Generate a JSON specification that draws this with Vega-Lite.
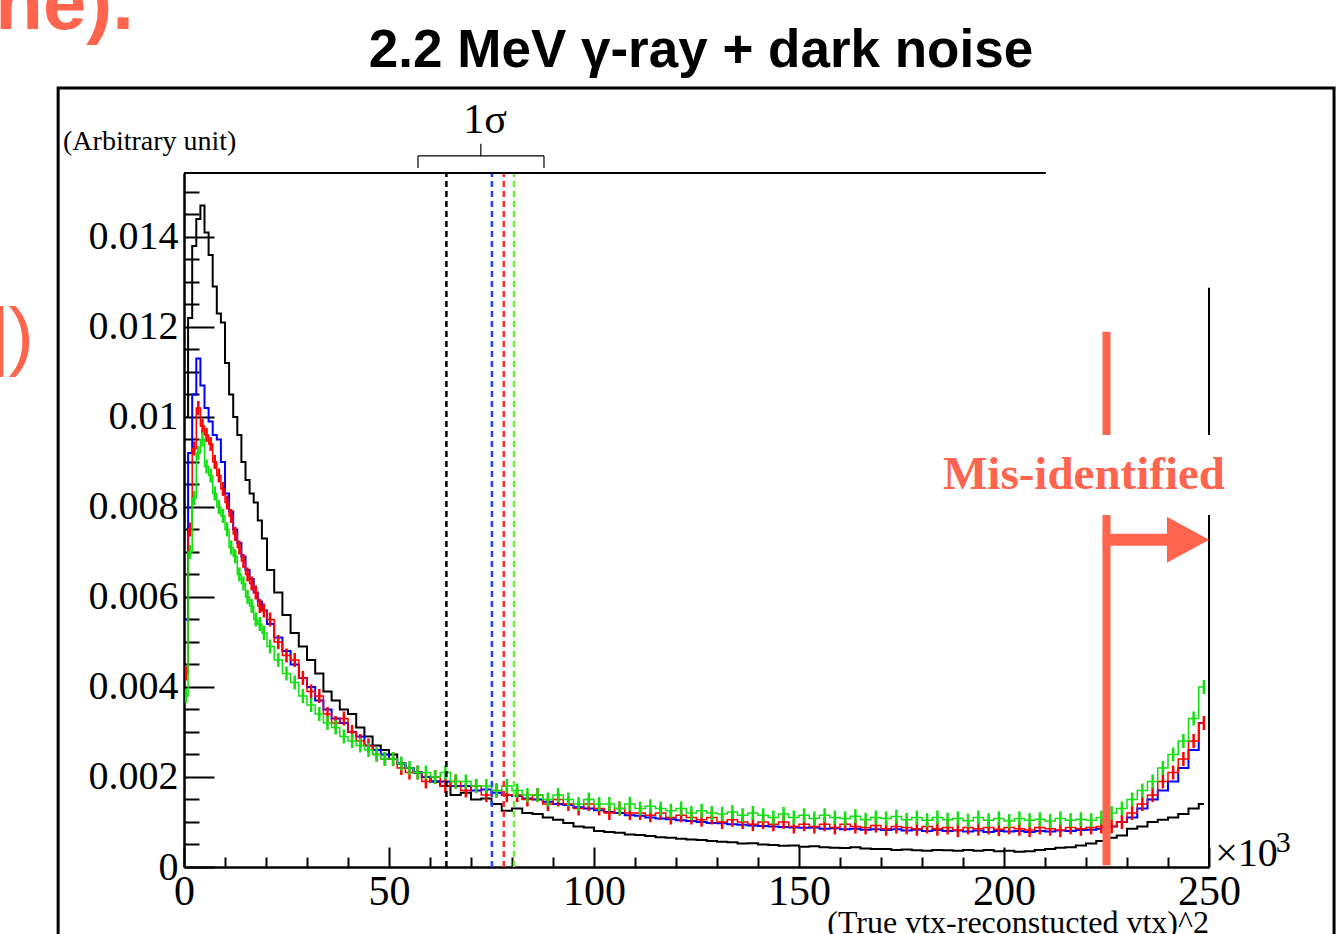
{
"$schema": "https://vega.github.io/schema/vega-lite/v6.json",
"width": 1025, "height": 694,
"autosize": "none",
"padding": {"left": 184, "top": 173, "right": 128, "bottom": 67},
"background": "white",
"config": {"view": {"stroke": null}, "axis": {"grid": false, "domainColor": "black", "tickColor": "black", "labelColor": "black", "labelFont": "Liberation Serif", "title": null}},
"resolve": {"axis": {"x": "independent", "y": "independent"}},
"datasets": {
"hist": [
{"x":0.5,"black":0.0100,"blue":0.0055,"red":0.0043,"green":0.0038},
{"x":1.5,"black":0.0122,"blue":0.0092,"red":0.0075,"green":0.0070},
{"x":2.5,"black":0.0138,"blue":0.0105,"red":0.0093,"green":0.0082},
{"x":3.5,"black":0.0144,"blue":0.0113,"red":0.0102,"green":0.0092},
{"x":4.5,"black":0.0147,"blue":0.0107,"red":0.0098,"green":0.0095},
{"x":5.5,"black":0.0141,"blue":0.0102,"red":0.0096,"green":0.0089},
{"x":6.5,"black":0.0136,"blue":0.0099,"red":0.0094,"green":0.0087},
{"x":7.5,"black":0.0129,"blue":0.0096,"red":0.0090,"green":0.0083},
{"x":8.5,"black":0.0123,"blue":0.0095,"red":0.0087,"green":0.0080},
{"x":9.5,"black":0.0121,"blue":0.0090,"red":0.0084,"green":0.0078},
{"x":10.5,"black":0.0112,"blue":0.0083,"red":0.0081,"green":0.0075},
{"x":11.5,"black":0.0105,"blue":0.0079,"red":0.0078,"green":0.0071},
{"x":12.5,"black":0.0100,"blue":0.0075,"red":0.0074,"green":0.0069},
{"x":13.5,"black":0.0096,"blue":0.0072,"red":0.0071,"green":0.0065},
{"x":14.5,"black":0.0090,"blue":0.0069,"red":0.0068,"green":0.0063},
{"x":15.5,"black":0.0086,"blue":0.0066,"red":0.0065,"green":0.0060},
{"x":16.5,"black":0.0083,"blue":0.0064,"red":0.0063,"green":0.0058},
{"x":17.5,"black":0.0081,"blue":0.0061,"red":0.0061,"green":0.0055},
{"x":18.5,"black":0.0077,"blue":0.0059,"red":0.0058,"green":0.0054},
{"x":19.5,"black":0.0073,"blue":0.0057,"red":0.0057,"green":0.0052},
{"x":21,"black":0.0066,"blue":0.0054,"red":0.0055,"green":0.0049},
{"x":23,"black":0.0061,"blue":0.0051,"red":0.0050,"green":0.0046},
{"x":25,"black":0.0056,"blue":0.0048,"red":0.0047,"green":0.0043},
{"x":27,"black":0.0052,"blue":0.0045,"red":0.0046,"green":0.0041},
{"x":29,"black":0.0049,"blue":0.0042,"red":0.0042,"green":0.0038},
{"x":31,"black":0.0046,"blue":0.0040,"red":0.0039,"green":0.0036},
{"x":33,"black":0.0043,"blue":0.0037,"red":0.0038,"green":0.0034},
{"x":35,"black":0.0039,"blue":0.0035,"red":0.0034,"green":0.0032},
{"x":37,"black":0.0037,"blue":0.0033,"red":0.0032,"green":0.0031},
{"x":39,"black":0.0035,"blue":0.0032,"red":0.0033,"green":0.0029},
{"x":41,"black":0.0034,"blue":0.0030,"red":0.0030,"green":0.0028},
{"x":43,"black":0.0031,"blue":0.0029,"red":0.0028,"green":0.0027},
{"x":45,"black":0.0029,"blue":0.0027,"red":0.0027,"green":0.0026},
{"x":47,"black":0.0027,"blue":0.0026,"red":0.0025,"green":0.0025},
{"x":49,"black":0.0026,"blue":0.0025,"red":0.0024,"green":0.0024},
{"x":51,"black":0.0025,"blue":0.0024,"red":0.0024,"green":0.0024},
{"x":53,"black":0.0023,"blue":0.0023,"red":0.0022,"green":0.0023},
{"x":55,"black":0.0022,"blue":0.0022,"red":0.0021,"green":0.0022},
{"x":57,"black":0.0021,"blue":0.0021,"red":0.0021,"green":0.0021},
{"x":59,"black":0.0020,"blue":0.0020,"red":0.0019,"green":0.0021},
{"x":61.25,"black":0.0019,"blue":0.0019,"red":0.0020,"green":0.0020},
{"x":63.75,"black":0.0018,"blue":0.0019,"red":0.0018,"green":0.0021},
{"x":66.25,"black":0.0016,"blue":0.0018,"red":0.0019,"green":0.0019},
{"x":68.75,"black":0.00165,"blue":0.0018,"red":0.0017,"green":0.0019},
{"x":71.25,"black":0.0015,"blue":0.0017,"red":0.0018,"green":0.0018},
{"x":73.75,"black":0.00152,"blue":0.00172,"red":0.0016,"green":0.0018},
{"x":76.25,"black":0.0014,"blue":0.00165,"red":0.0017,"green":0.0017},
{"x":78.75,"black":0.00125,"blue":0.0016,"red":0.0016,"green":0.0018},
{"x":81.25,"black":0.0013,"blue":0.00158,"red":0.0016,"green":0.0017},
{"x":83.75,"black":0.0012,"blue":0.00152,"red":0.0015,"green":0.0016},
{"x":86.25,"black":0.00118,"blue":0.0015,"red":0.0016,"green":0.0016},
{"x":88.75,"black":0.0011,"blue":0.00145,"red":0.0014,"green":0.0015},
{"x":91.25,"black":0.00105,"blue":0.0014,"red":0.0015,"green":0.0016},
{"x":93.75,"black":0.00098,"blue":0.00138,"red":0.0014,"green":0.0015},
{"x":96.25,"black":0.0009,"blue":0.00133,"red":0.0013,"green":0.0014},
{"x":98.75,"black":0.00088,"blue":0.0013,"red":0.0014,"green":0.0015},
{"x":101.25,"black":0.0008,"blue":0.00126,"red":0.0013,"green":0.0014},
{"x":103.75,"black":0.00078,"blue":0.00122,"red":0.0012,"green":0.0014},
{"x":106.25,"black":0.00076,"blue":0.0012,"red":0.0013,"green":0.0013},
{"x":108.75,"black":0.00072,"blue":0.00115,"red":0.0012,"green":0.0014},
{"x":111.25,"black":0.00071,"blue":0.00114,"red":0.0012,"green":0.0013},
{"x":113.75,"black":0.00069,"blue":0.0011,"red":0.00115,"green":0.00135},
{"x":116.25,"black":0.00066,"blue":0.00108,"red":0.0012,"green":0.0013},
{"x":118.75,"black":0.00065,"blue":0.00106,"red":0.0011,"green":0.00125},
{"x":121.25,"black":0.00063,"blue":0.00104,"red":0.00115,"green":0.0013},
{"x":123.75,"black":0.00061,"blue":0.00102,"red":0.0011,"green":0.0012},
{"x":126.25,"black":0.0006,"blue":0.001,"red":0.00105,"green":0.00125},
{"x":128.75,"black":0.00058,"blue":0.00098,"red":0.0011,"green":0.0012},
{"x":131.25,"black":0.00056,"blue":0.00097,"red":0.001,"green":0.00118},
{"x":133.75,"black":0.00055,"blue":0.00095,"red":0.00105,"green":0.00122},
{"x":136.25,"black":0.00052,"blue":0.00094,"red":0.001,"green":0.00115},
{"x":138.75,"black":0.00053,"blue":0.00092,"red":0.00095,"green":0.0012},
{"x":141.25,"black":0.0005,"blue":0.00091,"red":0.001,"green":0.00115},
{"x":143.75,"black":0.00049,"blue":0.0009,"red":0.00095,"green":0.0011},
{"x":146.25,"black":0.00047,"blue":0.00089,"red":0.001,"green":0.00118},
{"x":148.75,"black":0.00048,"blue":0.00088,"red":0.0009,"green":0.0011},
{"x":151.25,"black":0.00045,"blue":0.00087,"red":0.00095,"green":0.00115},
{"x":153.75,"black":0.00046,"blue":0.00088,"red":0.0009,"green":0.00108},
{"x":156.25,"black":0.00044,"blue":0.00085,"red":0.00095,"green":0.00115},
{"x":158.75,"black":0.00043,"blue":0.00086,"red":0.00088,"green":0.0011},
{"x":161.25,"black":0.00042,"blue":0.00084,"red":0.00095,"green":0.00108},
{"x":163.75,"black":0.00044,"blue":0.00085,"red":0.0009,"green":0.00113},
{"x":166.25,"black":0.00041,"blue":0.00083,"red":0.00088,"green":0.00105},
{"x":168.75,"black":0.0004,"blue":0.00084,"red":0.00092,"green":0.0011},
{"x":171.25,"black":0.0004,"blue":0.00082,"red":0.00085,"green":0.00108},
{"x":173.75,"black":0.00038,"blue":0.00084,"red":0.0009,"green":0.00112},
{"x":176.25,"black":0.00039,"blue":0.00081,"red":0.00088,"green":0.00105},
{"x":178.75,"black":0.00037,"blue":0.00083,"red":0.00085,"green":0.0011},
{"x":181.25,"black":0.00036,"blue":0.0008,"red":0.0009,"green":0.00104},
{"x":183.75,"black":0.00038,"blue":0.00082,"red":0.00085,"green":0.0011},
{"x":186.25,"black":0.00037,"blue":0.0008,"red":0.00088,"green":0.00105},
{"x":188.75,"black":0.00036,"blue":0.00081,"red":0.00082,"green":0.00108},
{"x":191.25,"black":0.00038,"blue":0.00079,"red":0.00088,"green":0.00103},
{"x":193.75,"black":0.00036,"blue":0.00081,"red":0.00085,"green":0.0011},
{"x":196.25,"black":0.00038,"blue":0.00078,"red":0.00088,"green":0.00104},
{"x":198.75,"black":0.00035,"blue":0.0008,"red":0.00084,"green":0.00108},
{"x":201.25,"black":0.00036,"blue":0.00079,"red":0.00088,"green":0.00102},
{"x":203.75,"black":0.00034,"blue":0.0008,"red":0.00085,"green":0.00108},
{"x":206.25,"black":0.00035,"blue":0.00078,"red":0.00082,"green":0.00104},
{"x":208.75,"black":0.00038,"blue":0.0008,"red":0.00088,"green":0.00106},
{"x":211.25,"black":0.0004,"blue":0.00079,"red":0.00085,"green":0.00102},
{"x":213.75,"black":0.00043,"blue":0.00081,"red":0.00082,"green":0.00108},
{"x":216.25,"black":0.00044,"blue":0.0008,"red":0.00088,"green":0.00104},
{"x":218.75,"black":0.00048,"blue":0.00082,"red":0.00085,"green":0.00106},
{"x":221.25,"black":0.00052,"blue":0.00083,"red":0.00088,"green":0.00104},
{"x":223.75,"black":0.00058,"blue":0.00085,"red":0.0009,"green":0.0011},
{"x":226.25,"black":0.00065,"blue":0.0009,"red":0.0009,"green":0.0012},
{"x":228.75,"black":0.0007,"blue":0.001,"red":0.001,"green":0.0013},
{"x":231.25,"black":0.00085,"blue":0.0011,"red":0.0012,"green":0.0015},
{"x":233.75,"black":0.0009,"blue":0.0013,"red":0.0014,"green":0.0017},
{"x":236.25,"black":0.001,"blue":0.0015,"red":0.0016,"green":0.0019},
{"x":238.75,"black":0.00105,"blue":0.0017,"red":0.0019,"green":0.0022},
{"x":241.25,"black":0.0011,"blue":0.0019,"red":0.0021,"green":0.0025},
{"x":243.75,"black":0.00118,"blue":0.0022,"red":0.0024,"green":0.0028},
{"x":246.25,"black":0.0013,"blue":0.0026,"red":0.0028,"green":0.0033},
{"x":248.75,"black":0.0014,"blue":0.0032,"red":0.0032,"green":0.0040}
],
"sigma": [
{"series":"Black","s":64},
{"series":"Blue","s":75.1},
{"series":"Red","s":78},
{"series":"Green","s":80.5}
]
},
"layer": [
{
"data": {"name": "hist"},
"mark": {"type": "line", "interpolate": "step", "color": "black", "strokeWidth": 2},
"encoding": {
"x": {"field": "x", "type": "quantitative", "scale": {"domain": [0, 250], "nice": false, "zero": false},
 "axis": {"orient": "bottom", "values": [0, 50, 100, 150, 200, 250], "tickSize": -20, "tickWidth": 2, "domainWidth": 2.5, "labelFontSize": 42, "labelPadding": 44, "labelBaseline": "middle", "labelFlush": false, "labelOverlap": false, "title": null}},
"y": {"field": "black", "type": "quantitative", "scale": {"domain": [0, 0.01542], "nice": false, "zero": false},
 "axis": {"orient": "left", "values": [0, 0.002, 0.004, 0.006, 0.008, 0.01, 0.012, 0.014], "format": ".3~f", "tickSize": -30, "tickWidth": 2, "domainWidth": 2.5, "labelFontSize": 40, "labelPadding": 36, "labelFlush": false, "labelOverlap": false, "title": null}}
}
},
{
"data": {"name": "hist"},
"mark": {"type": "line", "interpolate": "step", "color": "#0000ff", "strokeWidth": 2},
"encoding": {
"x": {"field": "x", "type": "quantitative", "scale": {"domain": [0, 250], "nice": false, "zero": false},
 "axis": {"orient": "bottom", "values": [10, 20, 30, 40, 60, 70, 80, 90, 110, 120, 130, 140, 160, 170, 180, 190, 210, 220, 230, 240], "tickSize": -10, "tickWidth": 2, "labels": false, "domain": false, "title": null}},
"y": {"field": "blue", "type": "quantitative", "scale": {"domain": [0, 0.01542], "nice": false, "zero": false},
 "axis": {"orient": "left", "values": [0.0005, 0.001, 0.0015, 0.0025, 0.003, 0.0035, 0.0045, 0.005, 0.0055, 0.0065, 0.007, 0.0075, 0.0085, 0.009, 0.0095, 0.0105, 0.011, 0.0115, 0.0125, 0.013, 0.0135, 0.0145, 0.015], "tickSize": -15, "tickWidth": 2, "labels": false, "domain": false, "title": null}}
}
},
{
"data": {"name": "hist"},
"mark": {"type": "line", "interpolate": "step", "color": "#ff0000", "strokeWidth": 1.5},
"encoding": {
"x": {"field": "x", "type": "quantitative", "scale": {"domain": [0, 250], "nice": false, "zero": false}, "axis": null},
"y": {"field": "red", "type": "quantitative", "scale": {"domain": [0, 0.01542], "nice": false, "zero": false}, "axis": null}
}
},
{
"data": {"name": "hist"},
"mark": {"type": "tick", "orient": "vertical", "size": 14, "thickness": 2.5, "color": "#ff0000", "opacity": 1},
"encoding": {
"x": {"field": "x", "type": "quantitative", "scale": {"domain": [0, 250], "nice": false, "zero": false}, "axis": null},
"y": {"field": "red", "type": "quantitative", "scale": {"domain": [0, 0.01542], "nice": false, "zero": false}, "axis": null}
}
},
{
"data": {"name": "hist"},
"mark": {"type": "line", "interpolate": "step", "color": "#10e010", "strokeWidth": 1.5},
"encoding": {
"x": {"field": "x", "type": "quantitative", "scale": {"domain": [0, 250], "nice": false, "zero": false}, "axis": null},
"y": {"field": "green", "type": "quantitative", "scale": {"domain": [0, 0.01542], "nice": false, "zero": false}, "axis": null}
}
},
{
"data": {"name": "hist"},
"mark": {"type": "tick", "orient": "vertical", "size": 14, "thickness": 2.5, "color": "#10e010", "opacity": 1},
"encoding": {
"x": {"field": "x", "type": "quantitative", "scale": {"domain": [0, 250], "nice": false, "zero": false}, "axis": null},
"y": {"field": "green", "type": "quantitative", "scale": {"domain": [0, 0.01542], "nice": false, "zero": false}, "axis": null}
}
},
{
"data": {"name": "sigma"},
"mark": {"type": "rule", "strokeWidth": 2.5, "strokeDash": [6, 4]},
"encoding": {
"x": {"field": "s", "type": "quantitative", "axis": null},
"y": {"datum": 0, "axis": null},
"y2": {"datum": 0.01542},
"color": {"field": "series", "type": "nominal", "scale": {"domain": ["Black", "Blue", "Red", "Green"], "range": ["#000000", "#2244ff", "#ff2a2a", "#66ee33"]}, "legend": null}
}
},
{
"data": {"values": [{}]},
"mark": {"type": "rule", "color": "black", "strokeWidth": 2},
"encoding": {"x": {"datum": 0, "axis": null}, "x2": {"datum": 210.2}, "y": {"datum": 0.01542, "axis": null}}
},
{
"data": {"values": [{}]},
"mark": {"type": "rule", "color": "black", "strokeWidth": 2},
"encoding": {"x": {"datum": 250, "axis": null}, "y": {"datum": 0.01287, "axis": null}, "y2": {"datum": 0.0096}}
},
{
"data": {"values": [{}]},
"mark": {"type": "rule", "color": "black", "strokeWidth": 2},
"encoding": {"x": {"datum": 250, "axis": null}, "y": {"datum": 0.00782, "axis": null}, "y2": {"datum": 0}}
},
{
"data": {"values": [{}]},
"mark": {"type": "rect", "filled": false, "stroke": "black", "strokeWidth": 3},
"encoding": {"x": {"datum": -30.7, "axis": null}, "x2": {"datum": 280.5}, "y": {"datum": 0.01731, "axis": null}, "y2": {"datum": -0.003}}
},
{
"data": {"values": [{}]},
"mark": {"type": "rule", "color": "#FF644E", "strokeWidth": 8},
"encoding": {"x": {"datum": 225, "axis": null}, "y": {"datum": 0.01189, "axis": null}, "y2": {"datum": 0.0096}}
},
{
"data": {"values": [{}]},
"mark": {"type": "rule", "color": "#FF644E", "strokeWidth": 8},
"encoding": {"x": {"datum": 225, "axis": null}, "y": {"datum": 0.00782, "axis": null}, "y2": {"datum": 0.00004}}
},
{
"data": {"values": [{}]},
"mark": {"type": "rule", "color": "#FF644E", "strokeWidth": 12},
"encoding": {"x": {"datum": 224.1, "axis": null}, "x2": {"datum": 241}, "y": {"datum": 0.00727, "axis": null}}
},
{
"data": {"values": [{}]},
"mark": {"type": "point", "shape": "M -0.92 -1 L 0.92 0 L -0.92 1 Z", "filled": true, "color": "#FF644E", "opacity": 1, "size": 2116, "strokeWidth": 0},
"encoding": {"x": {"datum": 244.9, "axis": null}, "y": {"datum": 0.00727, "axis": null}}
},
{
"data": {"values": [{}]},
"mark": {"type": "text", "text": "Mis-identified", "font": "Liberation Serif", "fontWeight": "bold", "fontSize": 47, "color": "#FF644E", "align": "center", "baseline": "alphabetic"},
"encoding": {"x": {"datum": 219.5, "axis": null}, "y": {"datum": 0.0084, "axis": null}}
},
{
"data": {"values": [{}]},
"mark": {"type": "text", "text": "1σ", "font": "Liberation Serif", "fontSize": 42, "color": "black", "align": "center", "baseline": "alphabetic"},
"encoding": {"x": {"datum": 73.4, "axis": null}, "y": {"datum": 0.01631, "axis": null}}
},
{
"data": {"values": [{}]},
"mark": {"type": "rule", "color": "black", "strokeWidth": 1.2},
"encoding": {"x": {"datum": 57.07, "axis": null}, "x2": {"datum": 87.8}, "y": {"datum": 0.0158, "axis": null}}
},
{
"data": {"values": [{}]},
"mark": {"type": "rule", "color": "black", "strokeWidth": 1.2},
"encoding": {"x": {"datum": 57.07, "axis": null}, "y": {"datum": 0.0158, "axis": null}, "y2": {"datum": 0.01553}}
},
{
"data": {"values": [{}]},
"mark": {"type": "rule", "color": "black", "strokeWidth": 1.2},
"encoding": {"x": {"datum": 87.8, "axis": null}, "y": {"datum": 0.0158, "axis": null}, "y2": {"datum": 0.01553}}
},
{
"data": {"values": [{}]},
"mark": {"type": "rule", "color": "black", "strokeWidth": 1.2},
"encoding": {"x": {"datum": 72.4, "axis": null}, "y": {"datum": 0.0158, "axis": null}, "y2": {"datum": 0.01607}}
},
{
"data": {"values": [{}]},
"mark": {"type": "text", "text": "(Arbitrary unit)", "font": "Liberation Serif", "fontSize": 28, "color": "black", "align": "left", "baseline": "alphabetic"},
"encoding": {"x": {"datum": -29.5, "axis": null}, "y": {"datum": 0.015933, "axis": null}}
},
{
"data": {"values": [{}]},
"mark": {"type": "text", "text": "2.2 MeV γ-ray + dark noise", "font": "Liberation Sans", "fontWeight": "bold", "fontSize": 53, "color": "black", "align": "center", "baseline": "alphabetic"},
"encoding": {"x": {"datum": 126.1, "axis": null}, "y": {"datum": 0.017778, "axis": null}}
},
{
"data": {"values": [{}]},
"mark": {"type": "text", "text": "ne).", "font": "Liberation Sans", "fontWeight": "bold", "fontSize": 78, "color": "#FF644E", "align": "right", "baseline": "alphabetic"},
"encoding": {"x": {"datum": -12.2, "axis": null}, "y": {"datum": 0.018622, "axis": null}}
},
{
"data": {"values": [{}]},
"mark": {"type": "text", "text": "])", "font": "Liberation Sans", "fontSize": 76, "color": "#FF644E", "align": "right", "baseline": "alphabetic"},
"encoding": {"x": {"datum": -36.6, "axis": null}, "y": {"datum": 0.011244, "axis": null}}
},
{
"data": {"values": [{}]},
"mark": {"type": "text", "text": "×10", "font": "Liberation Serif", "fontSize": 40, "color": "black", "align": "left", "baseline": "alphabetic"},
"encoding": {"x": {"datum": 251.5, "axis": null}, "y": {"datum": 0.00002, "axis": null}}
},
{
"data": {"values": [{}]},
"mark": {"type": "text", "text": "3", "font": "Liberation Serif", "fontSize": 30, "color": "black", "align": "left", "baseline": "alphabetic"},
"encoding": {"x": {"datum": 266.3, "axis": null}, "y": {"datum": 0.000333, "axis": null}}
},
{
"data": {"values": [{}]},
"mark": {"type": "text", "text": "(True vtx-reconstucted vtx)^2", "font": "Liberation Serif", "fontSize": 32, "color": "black", "align": "right", "baseline": "alphabetic"},
"encoding": {"x": {"datum": 250, "axis": null}, "y": {"datum": -0.001467, "axis": null}}
}
]
}
